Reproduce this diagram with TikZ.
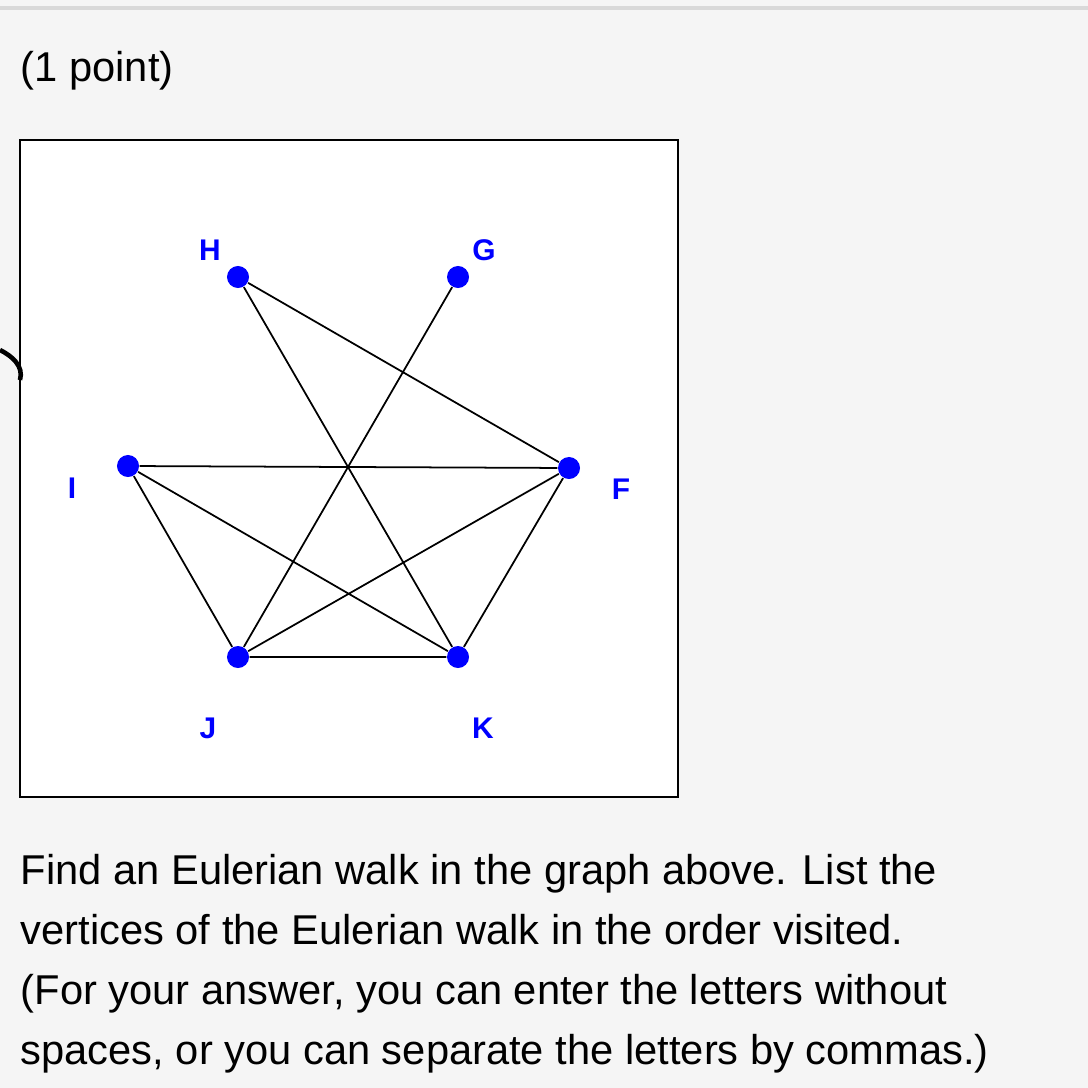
\documentclass[tikz,border=0pt]{standalone}
\usepackage{fontspec}
\setmainfont{Liberation Sans}
\begin{document}
\begin{tikzpicture}[x=0.01cm,y=-0.01cm,
  vtx/.style={circle,fill=blue,inner sep=0pt,minimum size=0.22cm},
  lbl/.style={text=blue,font=\bfseries\fontsize{8.5}{9}\selectfont},
  edge/.style={draw=black,line width=0.5pt},
  txt/.style={anchor=base west,inner sep=0pt,font=\fontsize{11.85}{13}\selectfont}]
\fill[black!4] (0,0) rectangle (1088,1088);
\useasboundingbox (0,0) rectangle (1088,1088);
\draw[black!15,line width=1pt] (0,8) -- (1088,8);
\draw[fill=white,line width=0.7pt] (20,140) rectangle (678,797);
\draw[line width=1.3pt] (0,350) .. controls (12,356) and (24,366) .. (20,380);
\node[txt] (t0) at (20,82) {(1 point)};
\node[vtx] (H) at (238,277) {};
\node[vtx] (G) at (458,277) {};
\node[vtx] (I) at (128,466) {};
\node[vtx] (F) at (569,468) {};
\node[vtx] (J) at (238,657) {};
\node[vtx] (K) at (458,657) {};
\node[lbl] at (210,250) {H};
\node[lbl] at (484,250) {G};
\node[lbl] at (72,488) {I};
\node[lbl] at (621,489) {F};
\node[lbl] at (208,728) {J};
\node[lbl] at (483,728) {K};
\draw[edge] (H) -- (F) (H) -- (K) (G) -- (J) (I) -- (F) (I) -- (J) (I) -- (K) (F) -- (J) (F) -- (K) (J) -- (K);
\node[txt] at (20,884) {Find an Eulerian walk in the graph above. List the};
\node[txt] at (20,944) {vertices of the Eulerian walk in the order visited.};
\node[txt] at (20,1004) {(For your answer, you can enter the letters without};
\node[txt] at (20,1064) {spaces, or you can separate the letters by commas.)};
\end{tikzpicture}
\end{document}
